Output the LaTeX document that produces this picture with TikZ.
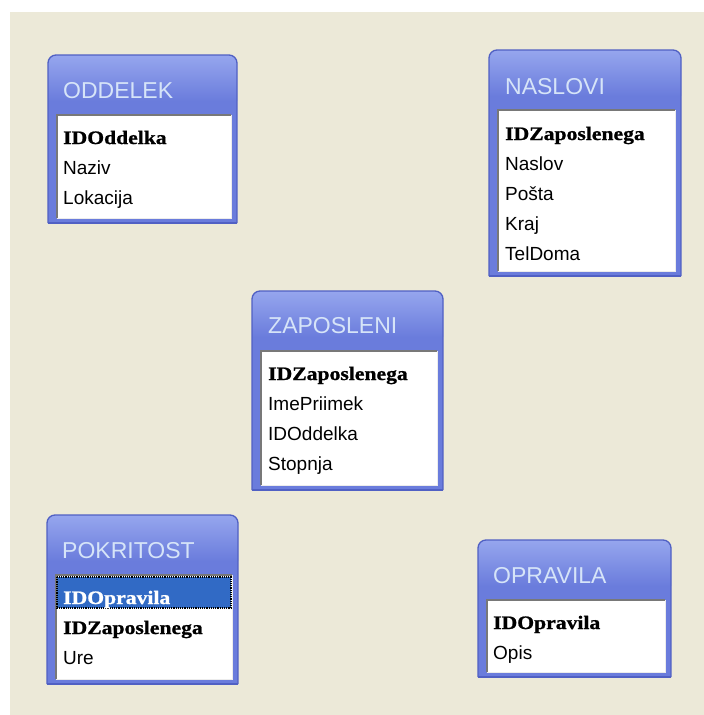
\documentclass[tikz,border=0pt]{standalone}
\usepackage{fontspec}
\setmainfont{Liberation Sans}
\newfontfamily\keyfont[FakeStretch=1.14,FakeBold=1]{Liberation Serif}

\definecolor{canvas}{RGB}{236,233,216}
\definecolor{framecol}{RGB}{106,124,220}
\definecolor{headlight}{RGB}{150,166,238}
\definecolor{bordercol}{RGB}{80,96,196}
\definecolor{titlecol}{RGB}{214,228,248}
\definecolor{sunken}{RGB}{120,120,120}
\definecolor{selblue}{RGB}{49,106,197}

\tikzset{
  fld/.style={anchor=base west, inner sep=0pt, text=black,
              font=\fontsize{19}{19}\selectfont},
  keyfld/.style={anchor=base west, inner sep=0pt, text=black,
                 font=\keyfont\bfseries\fontsize{19}{19}\selectfont},
  ttl/.style={anchor=base west, inner sep=0pt, text=titlecol,
              font=\fontsize{23}{23}\selectfont},
}

% table window: #1,#2 = top-left, #3,#4 = bottom-right (pixel units, y downwards)
\newcommand\tblframe[4]{%
  \fill[framecol] (#1,#2+40) rectangle (#3,#4);
  \shade[top color=headlight, bottom color=framecol, rounded corners=8pt]
    (#1,#2+46) -- (#1,#2) -- (#3,#2) -- (#3,#2+46);
  \draw[bordercol, line width=1.3pt, rounded corners=8pt]
    (#1,#4) -- (#1,#2) -- (#3,#2) -- (#3,#4);
  \draw[bordercol, line width=1.3pt] (#1,#4) -- (#3,#4);
  \fill[white] (#1+9,#2+60) rectangle (#3-6,#4-5);
  \draw[sunken, line width=1.6pt] (#1+9,#4-5) -- (#1+9,#2+60) -- (#3-6,#2+60);
  \draw[white!85!gray, line width=1pt] (#3-6,#2+60) -- (#3-6,#4-5) -- (#1+9,#4-5);
}

\begin{document}
\begin{tikzpicture}[x=1pt,y=-1pt]
\useasboundingbox (0,0) rectangle (704,715);
\fill[white] (0,0) rectangle (704,715);
\fill[canvas] (10,12) rectangle (704,715);

% ODDELEK
\tblframe{48}{55}{237}{223}
\node[ttl] (oddelek) at (63,98) {ODDELEK};
\node[keyfld] (oddelek-id) at (63,144) {IDOddelka};
\node[fld] (oddelek-naziv) at (63,174) {Naziv};
\node[fld] (oddelek-lok) at (63,204) {Lokacija};

% NASLOVI
\tblframe{489}{50}{681}{276}
\node[ttl] (naslovi) at (505,94) {NASLOVI};
\node[keyfld] (naslovi-id) at (505,140) {IDZaposlenega};
\node[fld] (naslovi-naslov) at (505,170) {Naslov};
\node[fld] (naslovi-posta) at (505,200) {Pošta};
\node[fld] (naslovi-kraj) at (505,230) {Kraj};
\node[fld] (naslovi-tel) at (505,260) {TelDoma};

% ZAPOSLENI
\tblframe{252}{291}{443}{490}
\node[ttl] (zaposleni) at (268,333) {ZAPOSLENI};
\node[keyfld] (zaposleni-id) at (268,380) {IDZaposlenega};
\node[fld] (zaposleni-ime) at (268,410) {ImePriimek};
\node[fld] (zaposleni-odd) at (268,440) {IDOddelka};
\node[fld] (zaposleni-st) at (268,470) {Stopnja};

% POKRITOST
\tblframe{47}{515}{238}{684}
\fill[selblue] (57,577) rectangle (231,608);
\draw[black, densely dotted, line width=1.2pt] (57,577) rectangle (231,608);
\node[ttl] (pokritost) at (62,558) {POKRITOST};
\node[keyfld, text=white] (pokritost-opr) at (63,604) {IDOpravila};
\node[keyfld] (pokritost-zap) at (63,634) {IDZaposlenega};
\node[fld] (pokritost-ure) at (63,664) {Ure};

% OPRAVILA
\tblframe{478}{540}{671}{677}
\node[ttl] (opravila) at (493,583) {OPRAVILA};
\node[keyfld] (opravila-id) at (493,629) {IDOpravila};
\node[fld] (opravila-opis) at (493,659) {Opis};
\end{tikzpicture}
\end{document}
